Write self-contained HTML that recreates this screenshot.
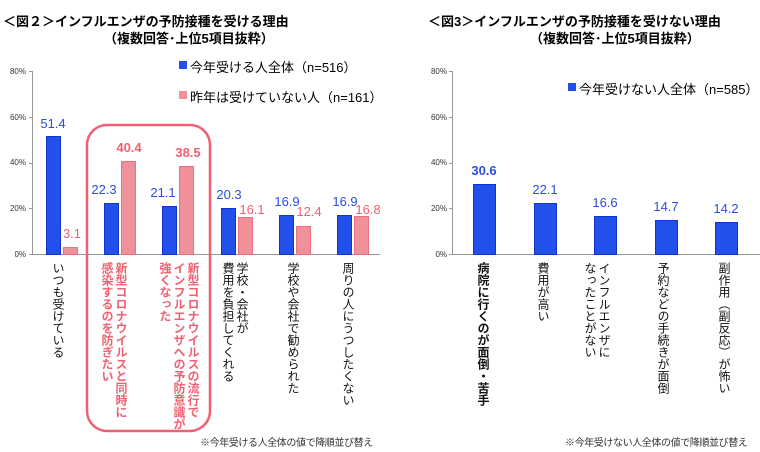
<!DOCTYPE html>
<html><head><meta charset="utf-8"><style>
body{margin:0;width:760px;height:452px;background:#fff;position:relative;overflow:hidden;font-family:"Liberation Sans","Noto Sans CJK JP",sans-serif}
.a{position:absolute;white-space:nowrap}
.v{position:absolute;writing-mode:vertical-rl;font-size:12px;line-height:14px;white-space:nowrap;color:#111}
.p{color:#f06070;font-weight:bold}
.b{font-weight:bold}
</style></head><body>
<svg width="760" height="452" style="position:absolute;left:0;top:0">
<g font-family="Liberation Sans, sans-serif" font-size="8" fill="#333" text-anchor="end">
<text x="26" y="74">80%</text><text x="26" y="120">60%</text><text x="26" y="165">40%</text><text x="26" y="211">20%</text><text x="26" y="257">0%</text>
<text x="447" y="74">80%</text><text x="447" y="120">60%</text><text x="447" y="165">40%</text><text x="447" y="211">20%</text><text x="447" y="257">0%</text>
</g>
<g stroke="#999" stroke-width="1">
<line x1="32.5" y1="71" x2="32.5" y2="254"/><line x1="29" y1="71.5" x2="32" y2="71.5"/><line x1="29" y1="117.5" x2="32" y2="117.5"/><line x1="29" y1="163.5" x2="32" y2="163.5"/><line x1="29" y1="208.5" x2="32" y2="208.5"/>
<line x1="29" y1="254.5" x2="380" y2="254.5"/>
<line x1="452.5" y1="71" x2="452.5" y2="254"/><line x1="449" y1="71.5" x2="452" y2="71.5"/><line x1="449" y1="117.5" x2="452" y2="117.5"/><line x1="449" y1="163.5" x2="452" y2="163.5"/><line x1="449" y1="208.5" x2="452" y2="208.5"/>
<line x1="449" y1="254.5" x2="760" y2="254.5"/>
</g>
<g fill="#2250ea" stroke="#1035c8" stroke-width="1">
<rect x="46.5" y="136.5" width="14" height="118"/>
<rect x="104.5" y="203.5" width="14" height="51"/>
<rect x="162.5" y="206.5" width="14" height="48"/>
<rect x="221.5" y="208.5" width="14" height="46"/>
<rect x="279.5" y="215.5" width="14" height="39"/>
<rect x="337.5" y="215.5" width="14" height="39"/>
<rect x="473.5" y="184.5" width="22" height="70"/>
<rect x="534.5" y="203.5" width="22" height="51"/>
<rect x="594.5" y="216.5" width="22" height="38"/>
<rect x="655.5" y="220.5" width="22" height="34"/>
<rect x="715.5" y="222.5" width="22" height="32"/>
</g>
<g fill="#f0909a" stroke="#e87080" stroke-width="1">
<rect x="63.5" y="247.5" width="14" height="7"/>
<rect x="121.5" y="161.5" width="14" height="93"/>
<rect x="179.5" y="166.5" width="14" height="88"/>
<rect x="238.5" y="217.5" width="14" height="37"/>
<rect x="296.5" y="226.5" width="14" height="28"/>
<rect x="354.5" y="216.5" width="14" height="38"/>
</g>
<rect x="87" y="125" width="123" height="306" rx="20" fill="none" stroke="#f06070" stroke-width="2.5"/>
<g font-family="Liberation Sans, sans-serif" font-size="13" text-anchor="middle">
<g fill="#2a4ee0">
<text x="53" y="128">51.4</text><text x="104" y="194">22.3</text><text x="163" y="197">21.1</text><text x="229" y="199">20.3</text><text x="287" y="206">16.9</text><text x="345" y="206">16.9</text>
<text x="484" y="175" font-weight="bold">30.6</text><text x="545" y="194">22.1</text><text x="605" y="207">16.6</text><text x="666" y="211">14.7</text><text x="726" y="213">14.2</text>
</g>
<g fill="#f06070">
<text x="72" y="238">3.1</text><text x="129" y="152" font-weight="bold">40.4</text><text x="188" y="157" font-weight="bold">38.5</text><text x="252" y="214">16.1</text><text x="309" y="216">12.4</text><text x="368" y="214">16.8</text>
</g>
</g>
<rect x="179" y="61" width="8" height="8" fill="#2250ea"/>
<rect x="179" y="91" width="8" height="8" fill="#f0909a"/>
<rect x="568" y="83" width="8" height="8" fill="#2250ea"/>
</svg>
<div class="a b" style="left:3px;top:11px;font-size:13px">＜図２＞インフルエンザの予防接種を受ける理由</div>
<div class="a b" style="left:104px;top:28px;font-size:13px">（複数回答･上位5項目抜粋）</div>
<div class="a b" style="left:428px;top:11px;font-size:13px">＜図3＞インフルエンザの予防接種を受けない理由</div>
<div class="a b" style="left:530px;top:28px;font-size:13px">（複数回答･上位5項目抜粋）</div>
<div class="a" style="left:190px;top:57px;font-size:13px">今年受ける人全体（n=516）</div>
<div class="a" style="left:190px;top:87px;font-size:13px">昨年は受けていない人（n=161）</div>
<div class="a" style="left:579px;top:79px;font-size:13px">今年受けない人全体（n=585）</div>
<div class="v" style="left:51px;top:262px">いつも受けている</div>
<div class="v p" style="left:100px;top:262px">新型コロナウイルスと同時に<br>感染するのを防ぎたい</div>
<div class="v p" style="left:158px;top:262px">新型コロナウイルスの流行で<br>インフルエンザへの予防意識が<br>強くなった</div>
<div class="v" style="left:221px;top:262px">学校・会社が<br>費用を負担してくれる</div>
<div class="v" style="left:286px;top:262px">学校や会社で勧められた</div>
<div class="v" style="left:341px;top:262px">周りの人にうつしたくない</div>
<div class="v b" style="left:476px;top:262px">病院に行くのが面倒・苦手</div>
<div class="v" style="left:536px;top:262px">費用が高い</div>
<div class="v" style="left:583px;top:262px">インフルエンザに<br>なったことがない</div>
<div class="v" style="left:656px;top:262px">予約などの手続きが面倒</div>
<div class="v" style="left:717px;top:262px">副作用（副反応）が怖い</div>
<div class="a" style="left:200px;top:434px;font-size:10px;letter-spacing:-0.4px;color:#333">※今年受ける人全体の値で降順並び替え</div>
<div class="a" style="left:565px;top:434px;font-size:10px;letter-spacing:-0.4px;color:#333">※今年受けない人全体の値で降順並び替え</div>
</body></html>
